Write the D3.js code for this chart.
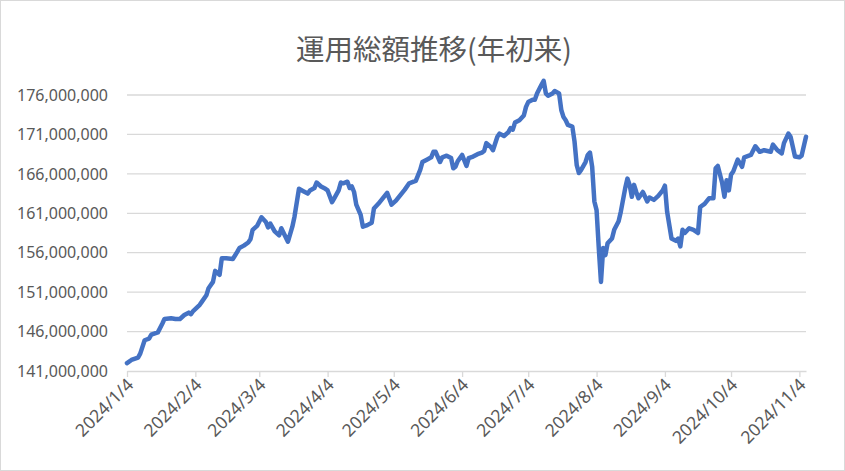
<!DOCTYPE html>
<meta charset="utf-8">
<style>
  body { margin: 0; background: #fff; }
  text { font-family: "Noto Sans CJK JP", "Noto Sans", sans-serif; fill: #595959; }
</style>
<svg width="845" height="471"></svg>
<script src="https://cdn.jsdelivr.net/npm/d3@7/dist/d3.min.js"></script>
<script>
var title = "運用総額推移(年初来)";

// 2024, month/day
var dates = [
  "1/4","1/6","1/9","1/10","1/12","1/14","1/15","1/17","1/18","1/20","1/21","1/24","1/26","1/28","1/30",
  "2/1","2/2","2/3","2/6","2/7","2/9","2/10","2/12","2/13","2/15","2/16","2/18","2/21","2/23","2/24","2/26","2/28","2/29",
  "3/1","3/3","3/5","3/7","3/8","3/9","3/11","3/13","3/14","3/17","3/19","3/20","3/22","3/24","3/26","3/27","3/29","3/30",
  "4/1","4/3","4/4","4/6","4/7","4/9","4/10","4/11","4/13","4/14","4/15","4/16","4/17","4/19","4/20","4/22","4/24","4/25","4/27","4/29",
  "5/1","5/3","5/5","5/7","5/9","5/11","5/13","5/14","5/16","5/17","5/19","5/21","5/22","5/23","5/25","5/26","5/28","5/30","5/31",
  "6/1","6/2","6/4","6/6","6/7","6/9","6/11","6/13","6/14","6/15","6/17","6/18","6/20","6/21","6/23","6/25","6/26","6/27","6/28","6/30",
  "7/2","7/3","7/4","7/6","7/7","7/8","7/10","7/11","7/12","7/13","7/15","7/16","7/18","7/19","7/20","7/21","7/22","7/24","7/25","7/26","7/27","7/28","7/30","7/31",
  "8/1","8/2","8/3","8/4","8/5","8/6","8/7","8/8","8/9","8/11","8/12","8/14","8/15","8/17","8/18","8/19","8/20","8/21","8/22","8/23","8/25","8/27","8/28","8/30",
  "9/1","9/3","9/4","9/5","9/6","9/7","9/9","9/10","9/11","9/12","9/13","9/15","9/17","9/19","9/20","9/22","9/24","9/26","9/27","9/28","9/30",
  "10/1","10/2","10/3","10/4","10/5","10/7","10/9","10/10","10/13","10/15","10/17","10/19","10/22","10/23","10/25","10/27","10/28","10/30","10/31",
  "11/2","11/4","11/5","11/7"
];

// total, in millions of yen
var totalMillions = [
  142.0,142.4,142.7,143.2,144.9,145.1,145.6,145.8,145.9,147.0,147.6,147.7,147.6,147.6,148.1,
  148.4,148.2,148.6,149.4,149.8,150.6,151.5,152.3,153.7,153.2,155.3,155.3,155.2,156.1,156.6,156.9,157.3,157.7,
  158.9,159.4,160.5,159.9,159.2,159.7,158.7,158.2,159.1,157.4,159.3,160.6,164.1,163.8,163.5,163.9,164.2,164.9,
  164.4,164.1,163.9,162.4,162.9,163.9,164.9,164.8,165.0,164.2,164.4,163.7,162.1,160.8,159.3,159.5,159.8,161.6,162.2,162.9,
  163.6,162.1,162.6,163.3,164.0,164.8,165.0,165.1,166.5,167.5,167.8,168.1,168.8,168.8,167.5,168.1,168.3,168.0,166.7,
  166.9,167.6,168.4,167.0,168.0,168.2,168.5,168.7,168.9,169.9,169.4,169.0,170.7,171.1,170.8,171.3,171.8,171.6,172.5,172.8,
  173.4,174.5,175.1,175.4,175.4,176.2,177.3,177.8,176.2,175.9,176.2,176.5,176.2,174.1,173.2,172.8,172.2,172.0,170.1,167.1,166.1,166.5,167.5,168.4,
  168.7,166.9,162.5,161.4,156.6,152.3,156.6,155.7,157.2,157.8,158.9,160.0,161.2,164.2,165.4,164.6,163.1,164.6,163.7,162.9,163.7,162.5,163.0,162.7,
  163.2,163.9,164.5,161.2,159.5,157.8,157.5,157.8,156.8,158.9,158.5,159.1,158.9,158.5,161.8,162.2,162.9,162.9,166.7,167.0,164.8,
  163.1,165.2,163.9,165.9,166.3,167.8,166.9,168.1,168.4,169.5,168.8,169.0,168.8,169.7,169.0,168.6,169.9,171.1,170.7,
  168.2,168.1,168.3,170.7
];

var xTickLabels = ["2024/1/4","2024/2/4","2024/3/4","2024/4/4","2024/5/4","2024/6/4",
                   "2024/7/4","2024/8/4","2024/9/4","2024/10/4","2024/11/4"];
var yTicks = [141e6, 146e6, 151e6, 156e6, 161e6, 166e6, 171e6, 176e6];

var parse = d3.timeParse("%Y/%m/%d");
var data = dates.map(function(d, i) {
  return { date: parse("2024/" + d), value: totalMillions[i] * 1e6 };
});

var svg = d3.select("svg");
var W = 845, H = 471;
var plotLeft = 127, plotRight = 806, plotTop = 95, plotBottom = 371;

svg.append("rect")
  .attr("x", 0.5).attr("y", 0.5)
  .attr("width", W - 1).attr("height", H - 1)
  .attr("fill", "#fff").attr("stroke", "#d9d9d9");

var x = d3.scaleTime()
  .domain(d3.extent(data, function(d) { return d.date; }))
  .range([plotLeft, plotRight]);

var y = d3.scaleLinear()
  .domain([141e6, 176e6])
  .range([plotBottom, plotTop]);

// gridlines
svg.append("g")
  .selectAll("line")
  .data(yTicks.slice(1))
  .enter().append("line")
  .attr("x1", plotLeft).attr("x2", plotRight)
  .attr("y1", function(d) { return y(d); })
  .attr("y2", function(d) { return y(d); })
  .attr("stroke", "#d9d9d9").attr("stroke-width", 1.3);

// y labels
svg.append("g")
  .selectAll("text")
  .data(yTicks)
  .enter().append("text")
  .attr("x", 108)
  .attr("y", function(d) { return y(d); })
  .attr("dy", "0.36em")
  .attr("text-anchor", "end")
  .style("font-family", "'Noto Sans', sans-serif")
  .style("font-size", "16px")
  .text(d3.format(","));

// x axis
var xAxis = d3.axisBottom(x)
  .tickValues(xTickLabels.map(function(s) { return parse(s); }))
  .tickSize(6)
  .tickSizeOuter(0)
  .tickFormat(d3.timeFormat("%Y/%-m/%-d"));

var gx = svg.append("g")
  .attr("transform", "translate(0," + plotBottom + ")")
  .call(xAxis);
gx.select(".domain").attr("stroke", "#d9d9d9").attr("stroke-width", 1.3);
gx.selectAll(".tick line").attr("stroke", "#d9d9d9").attr("stroke-width", 1.3);
gx.selectAll(".tick text")
  .attr("text-anchor", "end")
  .attr("x", 0).attr("y", 0)
  .attr("dy", 0)
  .attr("transform", "translate(7,15) rotate(-45)")
  .style("font-family", "'Noto Sans', sans-serif")
  .style("font-size", "17.5px")
  .style("fill", "#595959");

// line
var line = d3.line()
  .x(function(d) { return x(d.date); })
  .y(function(d) { return y(d.value); });

svg.append("path")
  .datum(data)
  .attr("d", line)
  .attr("fill", "none")
  .attr("stroke", "#4472c4")
  .attr("stroke-width", 4.5)
  .attr("stroke-linejoin", "round")
  .attr("stroke-linecap", "round");

// title
svg.append("text")
  .attr("x", 434)
  .attr("y", 60)
  .attr("text-anchor", "middle")
  .style("font-size", "28.5px")
  .text(title);
</script>
